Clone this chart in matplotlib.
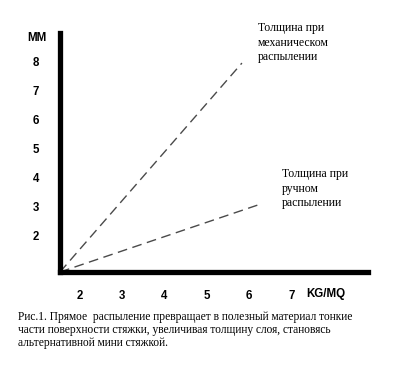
import matplotlib
matplotlib.use("Agg")
import matplotlib.pyplot as plt

# data
x_ticks = [2, 3, 4, 5, 6, 7]
y_ticks = [2, 3, 4, 5, 6, 7, 8]
mech_x = [1.53, 5.83]
mech_y = [0.72, 7.95]
manual_x = [1.53, 6.21]
manual_y = [0.72, 3.04]
mech_label = "Толщина при\nмеханическом\nраспылении"
manual_label = "Толщина при\nручном\nраспылении"
caption = ("Рис.1. Прямое  распыление превращает в полезный материал тонкие\n"
           "части поверхности стяжки, увеличивая толщину слоя, становясь\n"
           "альтернативной мини стяжкой.")

W, H = 402, 377
fig = plt.figure(figsize=(W / 100, H / 100), dpi=100)
L, R, B, T = 60, 368, 272, 33
ax = fig.add_axes([L / W, 1 - B / H, (R - L) / W, (B - T) / H])
ax.set_xlim(1.53, 8.81)
ax.set_ylim(0.72, 8.99)

for s in ["top", "right"]:
    ax.spines[s].set_visible(False)
for s in ["left", "bottom"]:
    ax.spines[s].set_linewidth(3.8)
    ax.spines[s].set_color("black")
    ax.spines[s].set_capstyle("projecting")

dash = (0, (7, 4))
ax.plot(mech_x, mech_y, color="#4a4a4a", lw=1.0, linestyle=dash)
ax.plot(manual_x, manual_y, color="#4a4a4a", lw=1.0, linestyle=dash)

ax.set_xticks(x_ticks)
ax.set_xticklabels([str(v) for v in x_ticks])
ax.set_yticks(y_ticks)
ax.set_yticklabels([str(v) for v in y_ticks])
ax.tick_params(axis="y", length=0, pad=15, labelsize=8.3)
ax.tick_params(axis="x", length=0, pad=13, labelsize=8.3)
for lab in ax.get_xticklabels() + ax.get_yticklabels():
    lab.set_fontweight("bold")
    lab.set_family("Liberation Sans")

fig.text(37 / W, 1 - 38 / H, "MM", ha="center", va="center",
         fontsize=8.3, fontweight="bold", family="Liberation Sans")
fig.text(326 / W, 1 - 294 / H, "KG/MQ", ha="center", va="center",
         fontsize=8.3, fontweight="bold", family="Liberation Sans")

fig.text(258 / W, 1 - 22 / H, mech_label, ha="left", va="top", fontsize=8.5,
         family="Liberation Serif", linespacing=1.28)
fig.text(282 / W, 1 - 168 / H, manual_label, ha="left", va="top", fontsize=8.5,
         family="Liberation Serif", linespacing=1.28)
fig.text(18 / W, 1 - 311 / H, caption, ha="left", va="top", fontsize=8.3,
         family="Liberation Serif", linespacing=1.13)

fig.savefig("out.png", dpi=100)
